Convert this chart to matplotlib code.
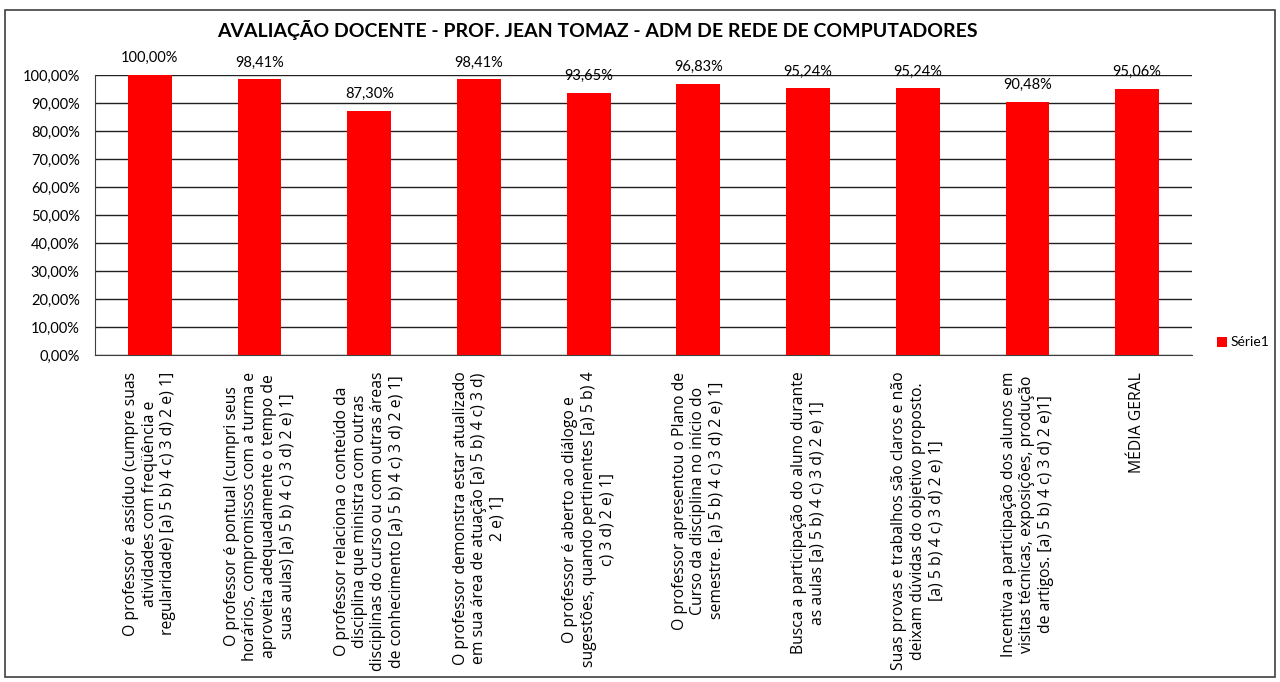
import matplotlib
matplotlib.use("Agg")
import matplotlib.pyplot as plt
from matplotlib.patches import Rectangle
from matplotlib.ticker import FuncFormatter

plt.rcParams['font.family'] = ['Lato', 'DejaVu Sans']

categories = [
    "O professor é assíduo (cumpre suas\natividades com freqüência e\nregularidade) [a) 5 b) 4 c) 3 d) 2 e) 1]",
    "O professor é pontual (cumpri seus\nhorários, compromissos com a turma e\naproveita adequadamente o tempo de\nsuas aulas) [a) 5 b) 4 c) 3 d) 2 e) 1]",
    "O professor relaciona o conteúdo da\ndisciplina que ministra com outras\ndisciplinas do curso ou com outras áreas\nde conhecimento [a) 5 b) 4 c) 3 d) 2 e) 1]",
    "O professor demonstra estar atualizado\nem sua área de atuação [a) 5 b) 4 c) 3 d)\n2 e) 1]",
    "O professor é aberto ao diálogo e\nsugestões, quando pertinentes [a) 5 b) 4\nc) 3 d) 2 e) 1]",
    "O professor apresentou o Plano de\nCurso da disciplina no início do\nsemestre. [a) 5 b) 4 c) 3 d) 2 e) 1]",
    "Busca a participação do aluno durante\nas aulas [a) 5 b) 4 c) 3 d) 2 e) 1]",
    "Suas provas e trabalhos são claros e não\ndeixam dúvidas do objetivo proposto.\n[a) 5 b) 4 c) 3 d) 2 e) 1]",
    "Incentiva a participação dos alunos em\nvisitas técnicas, exposições, produção\nde artigos. [a) 5 b) 4 c) 3 d) 2 e)1]",
    "MÉDIA GERAL",
]
values = [100.00, 98.41, 87.30, 98.41, 93.65, 96.83, 95.24, 95.24, 90.48, 95.06]
series_name = "Série1"
title = "AVALIAÇÃO DOCENTE - PROF. JEAN TOMAZ - ADM DE REDE DE COMPUTADORES"

W, H = 1280, 682
fig = plt.figure(figsize=(W / 100, H / 100), dpi=100)

# outer chart border
fig.patches.append(Rectangle((5 / W, 5 / H), 1270 / W, 667 / H, transform=fig.transFigure,
                             fill=False, edgecolor='#404040', linewidth=1.2))

ax = fig.add_axes([95 / W, 1 - 355 / H, (1192 - 95) / W, (355 - 75) / H])

x = list(range(len(values)))
bars = ax.bar(x, values, width=0.4, color='#FF0000', zorder=3)

ax.set_xlim(-0.5, len(values) - 0.5)
ax.set_ylim(0, 100)
ax.set_yticks([i * 10 for i in range(11)])
ax.yaxis.set_major_formatter(FuncFormatter(lambda v, p: f"{v:.2f}%".replace('.', ',')))
ax.grid(axis='y', color='#202020', linewidth=1.0, zorder=0)
ax.set_axisbelow(True)

for s in ['top', 'right']:
    ax.spines[s].set_visible(False)
ax.spines['left'].set_color('#404040')
ax.spines['bottom'].set_color('#404040')
ax.tick_params(axis='both', length=0)
ax.tick_params(axis='y', labelsize=10.5, pad=11)

ax.set_xticks(x)
labels = ax.set_xticklabels(categories, rotation=90, fontsize=11.3, ha='center', va='top',
                            multialignment='center', linespacing=1.2)
for t in labels:
    t.set_fontfamily(['Open Sans', 'DejaVu Sans'])
ax.tick_params(axis='x', pad=12)

for xi, v in zip(x, values):
    ax.annotate(f"{v:.2f}%".replace('.', ','), (xi, v), xytext=(0, 7),
                textcoords='offset points', ha='center', va='bottom', fontsize=10.5)

fig.text(597 / W, 1 - 30 / H, title, ha='center', va='center', fontsize=14,
         fontweight='bold')

# legend
fig.patches.append(Rectangle((1217 / W, 1 - 347 / H), 10 / W, 10 / H, transform=fig.transFigure,
                             facecolor='#FF0000', edgecolor='none'))
fig.text(1231 / W, 1 - 342 / H, series_name, ha='left', va='center', fontsize=10)

fig.savefig("out.png", dpi=100)
